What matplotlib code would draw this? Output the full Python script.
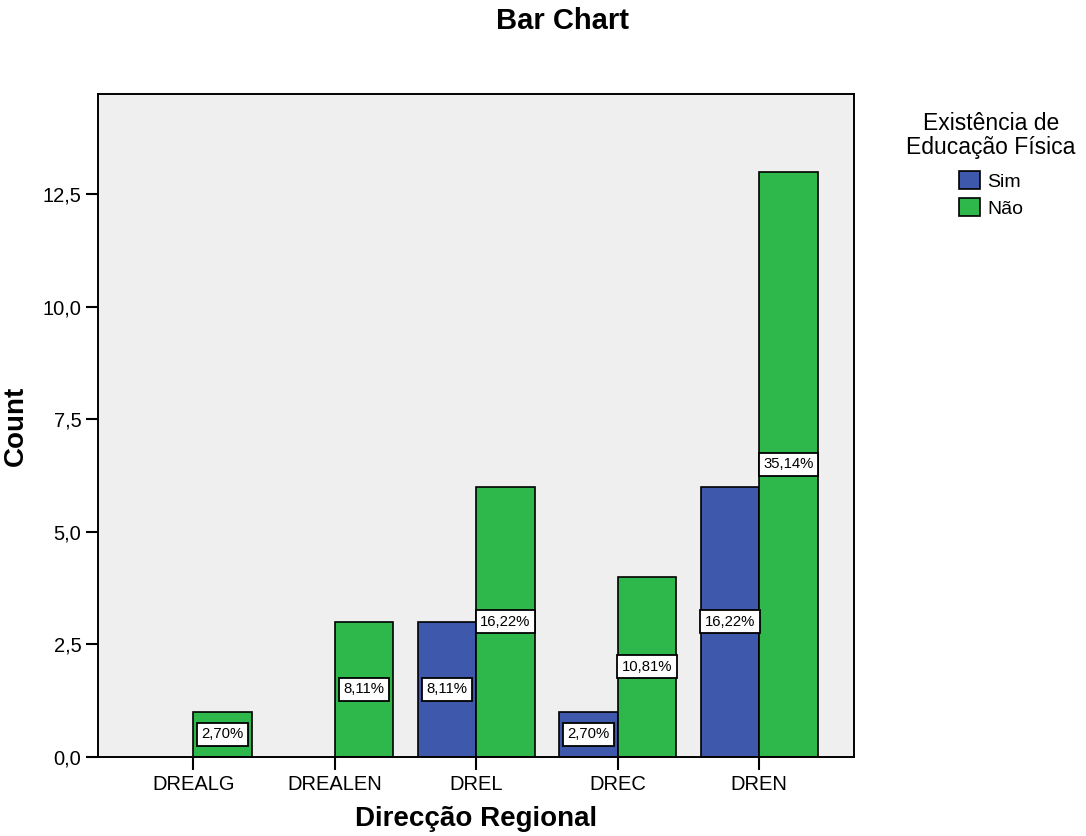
import matplotlib
matplotlib.use('Agg')
import matplotlib.pyplot as plt
from matplotlib.patches import Patch
import numpy as np

plt.rcParams['font.family'] = ['Liberation Sans', 'DejaVu Sans']

# counts per regional directorate, split by whether PE is offered
REGIONS = ['DREALG', 'DREALEN', 'DREL', 'DREC', 'DREN']
SIM = [0, 0, 3, 1, 6]
NAO = [1, 3, 6, 4, 13]
YTICKS = [0.0, 2.5, 5.0, 7.5, 10.0, 12.5]

BLUE, GREEN, PANEL = '#3e58ab', '#2eb84b', '#efefef'


def comma(v, nd=1):
  return f'{v:.{nd}f}'.replace('.', ',')


def main():
  total = sum(SIM) + sum(NAO)
  x = np.arange(len(REGIONS))
  w = 0.413

  fig = plt.figure(figsize=(10.86, 8.36), dpi=100)
  ax = fig.add_axes([0.0902, 0.0949, 0.6964, 0.7923])
  ax.set_facecolor(PANEL)

  b_sim = ax.bar(x - w / 2, SIM, w, color=BLUE, edgecolor='black', lw=1.2)
  b_nao = ax.bar(x + w / 2, NAO, w, color=GREEN, edgecolor='black', lw=1.2)

  for bars, vals in ((b_sim, SIM), (b_nao, NAO)):
    for rect, v in zip(bars, vals):
      if v == 0:
        rect.set_visible(False)  # no empty outline on the baseline
        continue
      pct = v / total * 100
      ax.text(rect.get_x() + rect.get_width() / 2, v / 2,
              comma(pct, 2) + '%', ha='center', va='center', fontsize=10.7,
              bbox=dict(boxstyle='square,pad=0.3', fc='white', ec='black',
                        lw=1.3))

  ax.set_xlim(-0.673, 4.671)
  ax.set_ylim(0, 14.72)
  ax.set_xticks(x, REGIONS)
  ax.set_yticks(YTICKS, [comma(v) for v in YTICKS])
  ax.tick_params(direction='out', length=9, width=1.5, labelsize=14.5)
  ax.tick_params(axis='x', pad=4)
  ax.tick_params(axis='y', pad=3)
  for s in ax.spines.values():
    s.set_linewidth(1.4)

  ax.set_xlabel('Direcção Regional', fontsize=20, fontweight='bold',
                labelpad=9)
  ax.set_ylabel('Count', fontsize=20, fontweight='bold', labelpad=10)
  fig.text(563 / 1086, 1 - 29 / 836, 'Bar Chart', ha='center',
           va='baseline', fontsize=21, fontweight='bold')

  # legend heading drawn on its own so the swatches can sit lower
  fig.text(991 / 1086, 1 - 154 / 836, 'Existência de\nEducação Física',
           ha='center', va='baseline', ma='center', fontsize=16.5,
           linespacing=1.05)
  handles = [Patch(fc=BLUE, ec='black', lw=1.2, label='Sim'),
             Patch(fc=GREEN, ec='black', lw=1.2, label='Não')]
  fig.legend(handles=handles, loc='upper center',
             bbox_to_anchor=(991 / 1086, 1 - 171 / 836),
             fontsize=14, frameon=False, handlelength=1.12,
             handleheight=1.07, handletextpad=0.37, labelspacing=0.37,
             borderpad=0, borderaxespad=0)

  fig.savefig('out.png', dpi=100)


if __name__ == '__main__':
  main()
